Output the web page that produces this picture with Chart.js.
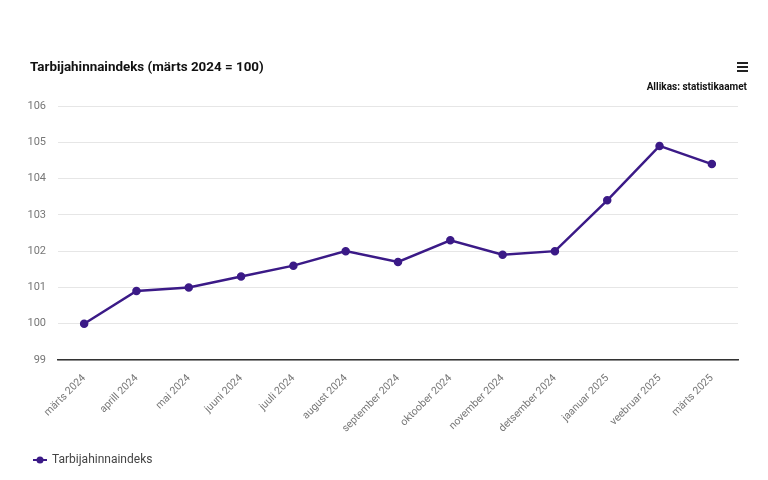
<!DOCTYPE html>
<html>
<head>
<meta charset="utf-8">
<script src="https://cdn.jsdelivr.net/npm/chart.js@4/dist/chart.umd.min.js"></script>
<style>
  html, body { margin: 0; padding: 0; background: #fff; }
  #wrap { width: 768px; height: 480px; }
</style>
</head>
<body>
<div id="wrap"><canvas id="cpiChart" width="768" height="480"></canvas></div>
<script>
// months, March 2024 .. March 2025
const months = ['märts 2024', 'aprill 2024', 'mai 2024', 'juuni 2024', 'juuli 2024', 'august 2024',
  'september 2024', 'oktoober 2024', 'november 2024', 'detsember 2024', 'jaanuar 2025', 'veebruar 2025', 'märts 2025']
const indexValues = [100.0, 100.9, 101.0, 101.3, 101.6, 102.0, 101.7, 102.3, 101.9, 102.0, 103.4, 104.9, 104.4]
const yTicks = [99, 100, 101, 102, 103, 104, 105, 106]

const seriesName = 'Tarbijahinnaindeks'
const titleText = 'Tarbijahinnaindeks (märts 2024 = 100)'
const sourceText = 'Allikas: statistikaamet'
const lineColor = '#3b1a87'

// little line-with-dot icon for the legend
function legendIcon(){
    let c = document.createElement('canvas')
    c.width = 16
    c.height = 8
    let g = c.getContext('2d')
    g.strokeStyle = lineColor
    g.lineWidth = 2
    g.beginPath()
    g.moveTo(1, 4)
    g.lineTo(15, 4)
    g.stroke()
    g.fillStyle = lineColor
    g.beginPath()
    g.arc(8, 4, 3.5, 0, Math.PI * 2)
    g.fill()
    return c
}

const headerPlugin = {
    id: 'header',
    afterDraw(chart){
        const ctx = chart.ctx
        ctx.save()
        ctx.fillStyle = '#111'
        ctx.textBaseline = 'middle'
        ctx.font = 'bold 13.4px Roboto'
        ctx.textAlign = 'left'
        ctx.fillText(titleText, 30, 68)
        ctx.font = 'bold 10px Roboto'
        ctx.textAlign = 'right'
        ctx.fillText(sourceText, 747, 87)
        // menu icon
        ctx.fillStyle = '#222'
        for (let i = 0; i < 3; i++){
            ctx.fillRect(737, 62 + i * 4, 11, 2)
        }
        ctx.restore()
    }
}

let ctx = document.getElementById('cpiChart').getContext('2d')

let cpiChart = new Chart(ctx, {
    type: 'line',
    data: {
        labels: months,
        datasets: [{
            label: seriesName,
            data: indexValues,
            borderColor: lineColor,
            backgroundColor: lineColor,
            borderWidth: 2.5,
            pointRadius: 3,
            pointHoverRadius: 4,
            tension: 0
        }]
    },
    options: {
        responsive: false,
        animation: false,
        layout: { padding: { left: 28, right: 30, top: 106, bottom: 4 } },
        scales: {
            x: {
                offset: true,
                grid: { display: false },
                border: { display: true, color: '#333', width: 1.5 },
                ticks: {
                    color: '#777',
                    font: { family: 'Roboto', size: 10.5 },
                    maxRotation: 45,
                    minRotation: 45,
                    autoSkip: false,
                    padding: 4
                },
                afterFit(scale){ scale.height = 88 }
            },
            y: {
                min: 99,
                max: 106,
                afterBuildTicks(scale){ scale.ticks = yTicks.map(v => ({ value: v })) },
                grid: { color: '#e6e6e6', drawTicks: false },
                border: { display: false },
                ticks: {
                    color: '#777',
                    font: { family: 'Roboto', size: 11 },
                    padding: 12
                },
                afterFit(scale){ scale.width = 30 }
            }
        },
        plugins: {
            title: { display: false },
            tooltip: { enabled: false },
            legend: {
                position: 'bottom',
                align: 'start',
                labels: {
                    color: '#444',
                    font: { family: 'Roboto', size: 12 },
                    padding: 6,
                    usePointStyle: true,
                    generateLabels(chart){
                        return chart.data.datasets.map((ds, i) => ({
                            text: ds.label,
                            pointStyle: legendIcon(),
                            fillStyle: lineColor,
                            strokeStyle: lineColor,
                            fontColor: '#444',
                            lineWidth: 0,
                            hidden: false,
                            datasetIndex: i
                        }))
                    }
                }
            }
        }
    },
    plugins: [headerPlugin]
})
</script>
</body>
</html>
